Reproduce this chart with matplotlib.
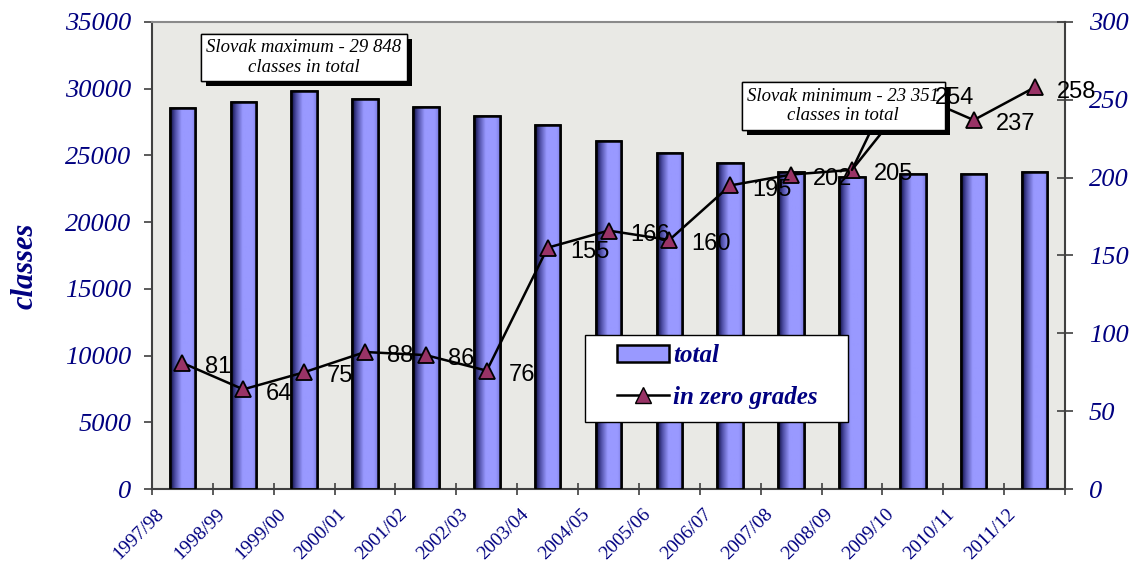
import numpy as np
import matplotlib
matplotlib.use("Agg")
import matplotlib.pyplot as plt
from matplotlib.colors import LinearSegmentedColormap
from matplotlib.transforms import ScaledTranslation
from matplotlib.patches import Rectangle
from matplotlib.lines import Line2D
import matplotlib.patheffects as pe

years = ["1997/98", "1998/99", "1999/00", "2000/01", "2001/02", "2002/03", "2003/04",
         "2004/05", "2005/06", "2006/07", "2007/08", "2008/09", "2009/10", "2010/11", "2011/12"]
total_classes = [28550, 29000, 29848, 29230, 28630, 27950, 27280, 26080, 25180, 24430,
                 23750, 23351, 23600, 23600, 23760]
zero_grades = [81, 64, 75, 88, 86, 76, 155, 166, 160, 195, 202, 205, 254, 237, 258]
left_ticks = [0, 5000, 10000, 15000, 20000, 25000, 30000, 35000]
right_ticks = [0, 50, 100, 150, 200, 250, 300]

NAVY = "#000080"
SERIF = "Liberation Serif"
SANS = "Liberation Sans"

fig = plt.figure(figsize=(11.42, 5.67), dpi=100)
ax1 = fig.add_axes([152/1142, 1-489/567, (1065-152)/1142, (489-22)/567])
ax2 = ax1.twinx()

x = np.arange(len(years))
ax1.set_facecolor("#e9e9e5")
bars = ax1.bar(x, total_classes, width=0.42, facecolor="#9999ff", edgecolor="black",
               linewidth=1.8, zorder=2)
cmap = LinearSegmentedColormap.from_list(
    "bar", [(0, "#0a0a3a"), (0.18, "#4a4aa0"), (0.45, "#9999ff"), (0.85, "#9999ff"), (1, "#7c7ce0")])
grad = np.linspace(0, 1, 64).reshape(1, -1)
for r in bars:
    x0, y0, w, h = r.get_x(), r.get_y(), r.get_width(), r.get_height()
    im = ax1.imshow(grad, cmap=cmap, aspect="auto", extent=(x0, x0 + w, y0, y0 + h),
                    zorder=2.5, interpolation="bilinear")
    im.set_clip_path(r)
ax1.bar(x, total_classes, width=0.42, facecolor="none", edgecolor="black",
        linewidth=1.8, zorder=3)

ax1.set_xlim(-0.5, len(years) - 0.5)
ax1.set_ylim(0, 35000)
ax1.set_yticks(left_ticks)
ax1.set_yticklabels([str(v) for v in left_ticks], fontfamily=SERIF, fontstyle="italic",
                    fontsize=19, color=NAVY)
ax1.tick_params(axis="y", direction="out", length=6, width=1.2, color="#404040", pad=9)
ax1.set_xticks(x)
ax1.set_xticklabels(years, rotation=45, ha="right", fontfamily=SERIF, fontsize=14,
                    color=NAVY)
ax1.tick_params(axis="x", which="major", length=0, pad=12)
ax1.set_xticks(np.arange(-0.5, len(years)), minor=True)
ax1.tick_params(axis="x", which="minor", direction="inout", length=9, width=1.2, color="#404040")
off = ScaledTranslation(-11/72, 0, fig.dpi_scale_trans)
for lab in ax1.get_xticklabels():
    lab.set_transform(lab.get_transform() + off)

for s in ["left", "bottom"]:
    ax1.spines[s].set_color("#404040")
    ax1.spines[s].set_linewidth(1.5)
ax1.spines["top"].set_color("#8a8a8a")
ax1.spines["top"].set_linewidth(1.5)
ax1.spines["right"].set_visible(False)

ax2.plot(x, zero_grades, color="black", linewidth=1.8, marker="^", markersize=11,
         markerfacecolor="#993366", markeredgecolor="black", markeredgewidth=1.3, zorder=3)
ax2.set_ylim(0, 300)
ax2.set_yticks(right_ticks)
ax2.set_yticklabels([str(v) for v in right_ticks], fontfamily=SERIF, fontstyle="italic",
                    fontsize=19, color=NAVY)
ax2.tick_params(axis="y", direction="inout", length=12, width=1.2, color="#404040", pad=11)
for s in ["left", "bottom", "top"]:
    ax2.spines[s].set_visible(False)
ax2.spines["right"].set_color("#404040")
ax2.spines["right"].set_linewidth(1.5)

for xi, v in zip(x, zero_grades):
    ax2.annotate(str(v), (xi, v), xytext=(16, -3), textcoords="offset points",
                 ha="left", va="center", fontfamily=SANS, fontsize=17, color="black", zorder=8)

shadow = [pe.withSimplePatchShadow(offset=(3.6, -3.6), shadow_rgbFace="black", alpha=1.0), pe.Normal()]
t1 = ax2.text(0.1665, 0.924, "Slovak maximum - 29 848\nclasses in total", transform=ax2.transAxes,
              ha="center", va="center", fontfamily=SERIF, fontstyle="italic", fontsize=13.5,
              linespacing=1.2, zorder=6,
              bbox=dict(boxstyle="square,pad=0.3", facecolor="white", edgecolor="black", linewidth=1))
t1.get_bbox_patch().set_path_effects(shadow)
t2 = ax2.annotate("Slovak minimum - 23 351\nclasses in total", xy=(11, zero_grades[11]),
                  xytext=(0.757, 0.82), textcoords="axes fraction",
                  ha="center", va="center", fontfamily=SERIF, fontstyle="italic", fontsize=13.5,
                  linespacing=1.2, zorder=6,
                  bbox=dict(boxstyle="square,pad=0.3", facecolor="white", edgecolor="black", linewidth=1),
                  arrowprops=dict(arrowstyle="-", color="black", lw=1.8, shrinkA=0, shrinkB=0,
                                  relpos=(0.66, 0)))
t2.get_bbox_patch().set_path_effects(shadow)

# legend frame drawn separately (wider horizontal padding than vertical)
frame = Rectangle((0.474, 0.1435), 0.288, 0.1865, transform=ax2.transAxes, facecolor="white",
                  edgecolor="black", linewidth=1, zorder=8.5)
ax2.add_patch(frame)
handles = [Rectangle((0, 0), 1, 1, facecolor="#9999ff", edgecolor="black", linewidth=1.8),
           Line2D([0], [0], color="black", linewidth=1.8, marker="^", markersize=11,
                  markerfacecolor="#993366", markeredgecolor="black")]
leg = ax2.legend(handles, ["total", "in zero grades"], loc="upper left",
                 bbox_to_anchor=(0.509, 0.31), frameon=False, handlelength=2.1,
                 handletextpad=0.15, labelspacing=0.75, borderpad=0, borderaxespad=0,
                 prop=dict(family=SERIF, style="italic", weight="bold", size=18))
leg.set_zorder(9)
for t in leg.get_texts():
    t.set_color(NAVY)

fig.text(25/1142, 1-266/567, "classes", rotation=90, ha="center", va="center",
         fontfamily=SERIF, fontstyle="italic", fontweight="bold", fontsize=22, color=NAVY)

fig.savefig("out.png", dpi=100)
